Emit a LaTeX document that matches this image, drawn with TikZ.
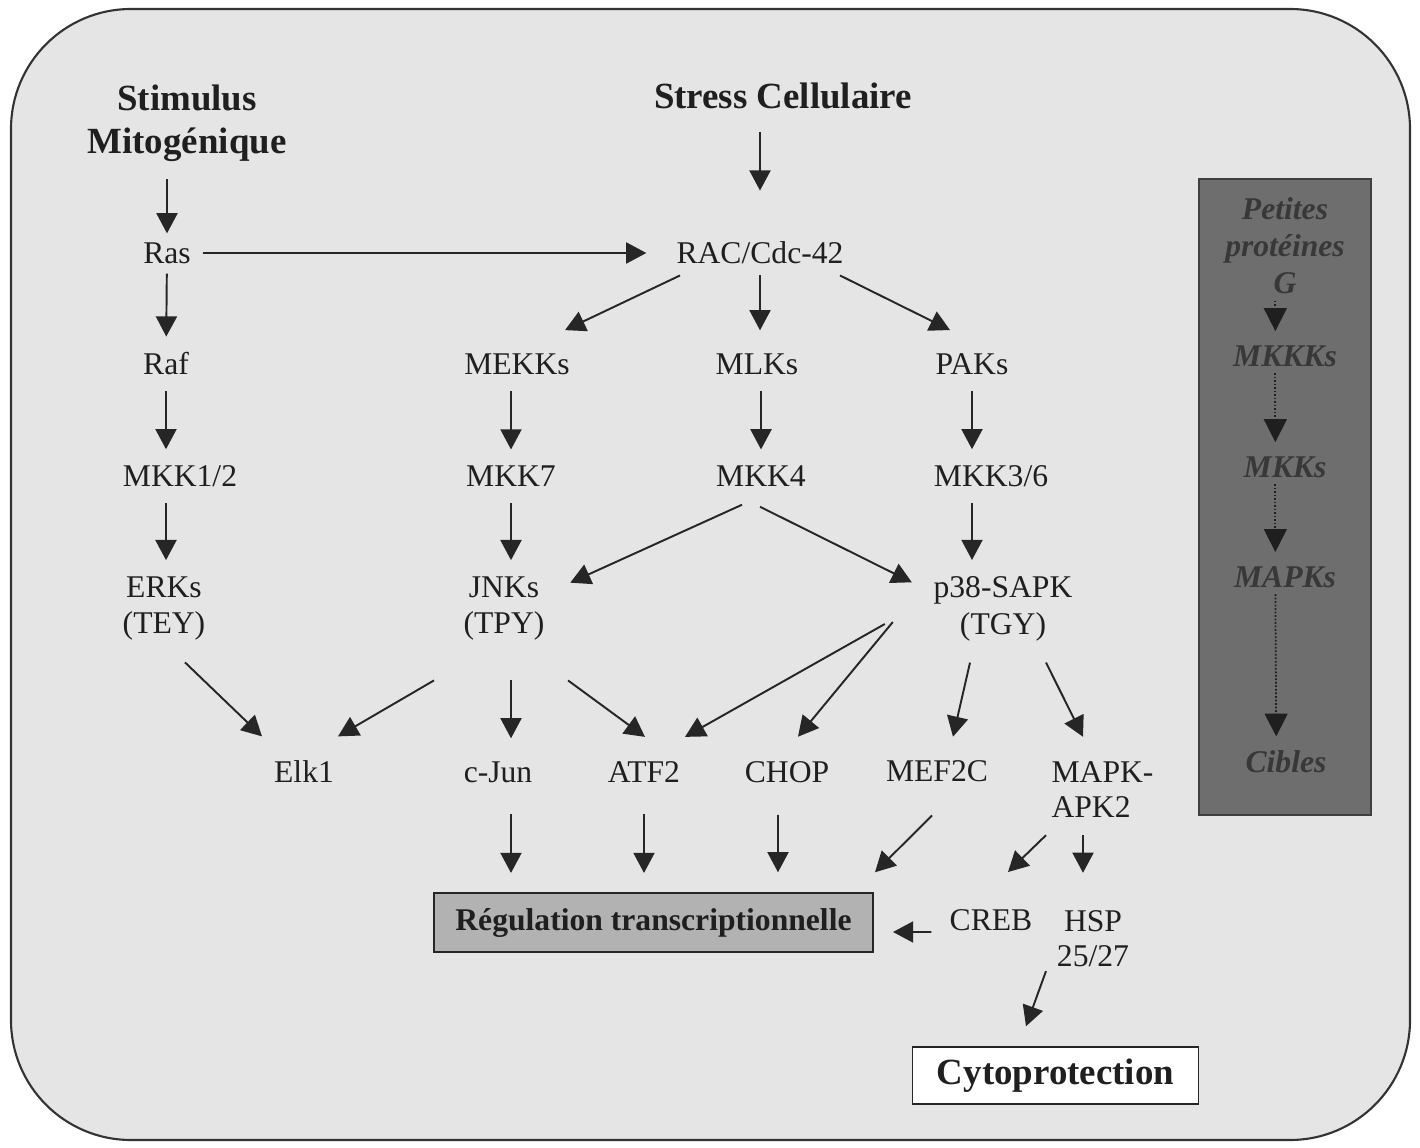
\documentclass[tikz,border=0pt]{standalone}
\usepackage{fontspec}
\setmainfont{Liberation Serif}
\usetikzlibrary{arrows.meta}

\begin{document}
\begin{tikzpicture}[x=0.02cm,y=-0.02cm,
  every node/.style={inner sep=0pt,align=center,text=black!88,%
    font=\fontsize{18}{21}\selectfont},%
  tt/.style={font=\fontsize{21}{24.4}\selectfont\bfseries},%
  e/.style={-{Triangle[length=11.5pt,width=12pt]},line width=1.1pt,draw=black!85,%
    shorten <=9pt,shorten >=9pt},%
  ex/.style={e,shorten <=0pt,shorten >=0pt},%
  d/.style={-{Triangle[length=13pt,width=13pt]},densely dotted,line width=1pt,%
    draw=black!88,shorten <=3.5pt,shorten >=8pt},%
  re/.style={draw=black!85,line width=1pt},%
  gr/.style={fill=black!30,font=\fontsize{18}{21}\selectfont\bfseries},%
  wh/.style={fill=white,font=\fontsize{21}{24}\selectfont\bfseries},%
  dk/.style={fill=black!57,draw=black!75,line width=1pt},%
  it/.style={text=black!78,font=\fontsize{18}{21}\selectfont\bfseries\itshape},%
  ]
  \useasboundingbox (0,0) rectangle (1420,1148);
  \fill [white] (0,0) rectangle (1420,1148);
  \draw [fill=black!10,draw=black!80,line width=1.2pt,rounded corners=2.4cm]
    (11,9) rectangle (1410,1140);

  \node (panel) [dk,minimum width=97.5pt,minimum height=361.7pt] at (1285,497) {};
  \node (petites) [it] at (1285,246) {Petites\\protéines\\G};
  \node (mkkk) [it] at (1285,356) {MKKKs};
  \node (mkks) [it] at (1285,467) {MKKs};
  \node (mapks) [it] at (1285,577) {MAPKs};
  \node (cibles) [it] at (1286,762) {Cibles};

  \node (stim) [tt] at (187,123) {Stimulus\\Mitogénique};
  \node (stress) [tt] at (783,95.5) {Stress Cellulaire};
  \node (ras) at (167,253) {Ras};
  \node (rac) at (760,253) {RAC/Cdc-42};
  \node (raf) at (166,364) {Raf};
  \node (mekks) at (517,364) {MEKKs};
  \node (mlks) at (757,364) {MLKs};
  \node (paks) at (972,364) {PAKs};
  \node (mkk12) at (180,476) {MKK1/2};
  \node (mkk7) at (511,476) {MKK7};
  \node (mkk4) at (761,476) {MKK4};
  \node (mkk36) at (991,476) {MKK3/6};
  \node (erks) at (164,608.5) {ERKs\\(TEY)};
  \node (jnks) at (504,608.5) {JNKs\\(TPY)};
  \node (p38) at (1003,608.5) {p38-SAPK\\(TGY)};
  \node (elk1) at (304,772) {Elk1};
  \node (cjun) at (498,772) {c-Jun};
  \node (atf2) at (644,772) {ATF2};
  \node (chop) at (787,772) {CHOP};
  \node (mef2c) at (937,771.5) {MEF2C};
  \node (mapk) [align=left,font=\fontsize{18}{20.4}\selectfont] at (1102.5,789.5) {MAPK-\\APK2};
  \node (reg) [re,gr,minimum width=250pt,minimum height=33.4pt] at (653.5,922.5)
    {Régulation transcriptionnelle};
  \node (creb) at (991,920) {CREB};
  \node (hsp) [font=\fontsize{18}{20.4}\selectfont] at (1093,938.7) {HSP\\25/27};
  \node (cyto) [re,wh,minimum width=162.7pt,minimum height=32.3pt] at (1055.5,1075.5)
    {Cytoprotection};

  \draw [e,shorten <=10pt,shorten >=5pt] (stim.south -| ras) -- (ras);
  \draw [e,shorten <=13pt,shorten >=29pt] (stress.south -| rac) -- (rac);
  \draw [e,shorten <=7pt,shorten >=17pt] (ras) -- (rac);
  \draw [e,shorten <=5.5pt] (ras) -- (raf);
  \draw [ex] ([shift={(-80,11)}]rac.south) -- ([shift={(48,-23)}]mekks.north);
  \draw [e,shorten <=6pt,shorten >=13pt] (rac) -- (rac |- mlks.north);
  \draw [ex] ([shift={(80,11)}]rac.south) -- ([shift={(-22,-23)}]paks.north);

  \draw [e] (raf) -- (raf |- mkk12.north);
  \draw [e] (mekks.south -| mkk7) -- (mkk7);
  \draw [e] (mlks.south -| mkk4) -- (mkk4);
  \draw [e] (paks) -- (paks |- mkk36.north);

  \draw [e] (mkk12.south -| raf) -- (raf |- erks.north);
  \draw [e] (mkk7) -- (mkk7 |- jnks.north);
  \draw [ex] ([shift={(-19,18)}]mkk4.south) -- ([shift={(25.5,6.7)}]jnks.north east);
  \draw [ex] ([shift={(-1,20)}]mkk4.south) -- ([shift={(-21.4,6.5)}]p38.north west);
  \draw [e] (mkk36.south -| paks) -- (paks |- p38.north);

  \draw [ex] ([shift={(21,21.4)}]erks.south) -- ([shift={(-42,-24.3)}]elk1.north);
  \draw [ex] ([shift={(-70,39.4)}]jnks.south) -- ([shift={(34,-24.3)}]elk1.north);
  \draw [e,shorten <=22pt,shorten >=13pt] (jnks.south -| mkk7) -- (mkk7 |- cjun.north);
  \draw [ex] ([shift={(64,39.4)}]jnks.south) -- ([shift={(1,-24.3)}]atf2.north);
  \draw [ex] ([shift={(-48.4,15.5)}]p38.west) -- ([shift={(41,-24.3)}]atf2.north);
  \draw [ex] ([shift={(-40.4,13.5)}]p38.west) -- ([shift={(11,-24.3)}]chop.north);
  \draw [ex] ([shift={(-33,21.4)}]p38.south) -- ([shift={(16,-23.8)}]mef2c.north);
  \draw [ex] ([shift={(43,21.4)}]p38.south) -- ([shift={(-19.5,-24)}]mapk.north);

  \draw [e,shorten <=18pt,shorten >=11pt] (cjun.south -| mkk7) -- (mkk7 |- reg.north);
  \draw [e,shorten <=18pt,shorten >=11pt] (atf2) -- (atf2 |- reg.north);
  \draw [ex] ([shift={(-9,32)}]chop.south) -- ([shift={(124.5,-20)}]reg.north);
  \draw [ex] ([shift={(-5,33)}]mef2c.south) -- ([shift={(1,-20)}]reg.north east);
  \draw [ex] ([shift={(-56.5,17)}]mapk.south) -- ([shift={(17,-37)}]creb.north);
  \draw [ex] ([shift={(-19.5,17)}]mapk.south) -- ([shift={(-10,-37)}]hsp.north);
  \draw [ex] ([shift={(-18,12)}]creb.west) -- ([shift={(19,9.5)}]reg.east);
  \draw [ex] ([shift={(-47,3.5)}]hsp.south) -- ([shift={(-29.5,-20)}]cyto.north);

  \draw [d] ([xshift=-5.5pt]petites.south) -- ([xshift=-5.5pt]mkkk.north);
  \draw [d] ([xshift=-5.5pt]mkkk.south) -- ([xshift=-5.5pt]mkks.north);
  \draw [d] ([xshift=-5.5pt]mkks.south) -- ([xshift=-5.5pt]mapks.north);
  \draw [d] ([xshift=-5.5pt]mapks.south) -- ([xshift=-5.5pt]cibles.north);
\end{tikzpicture}
\end{document}
